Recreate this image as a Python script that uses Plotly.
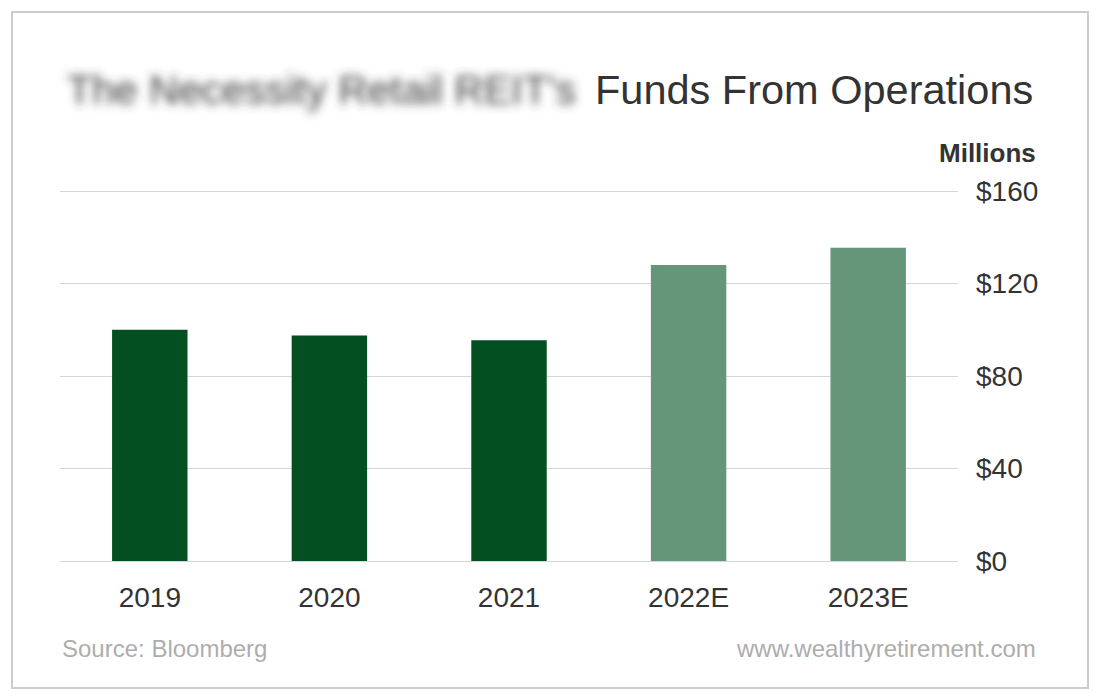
import plotly.graph_objects as go

categories = ["2019", "2020", "2021", "2022E", "2023E"]
ffo_values = [100, 97.5, 95.5, 128, 135.5]
bar_colors = ["#034f22", "#034f22", "#034f22", "#65967a", "#65967a"]
y_ticks = [0, 40, 80, 120, 160]
y_tick_text = ["$0", "$40", "$80", "$120", "$160"]

W, H = 1100, 700
L, R, T, B = 60, 142, 179, 139
PW, PH = W - L - R, H - T - B
PX_PER_UNIT = 370 / 160          # $0 at y=561, $160 at y=191
Y_MAX = PH / PX_PER_UNIT

def px(x):
    return (x - L) / PW

def py(y):
    return (H - B - y) / PH

FONT = "Liberation Sans, Arial, Helvetica, sans-serif"

fig = go.Figure(go.Bar(
    x=categories, y=ffo_values, marker=dict(color=bar_colors, line=dict(width=0)),
    hoverinfo="x+y",
))

fig.update_layout(
    width=W, height=H, margin=dict(l=L, r=R, t=T, b=B),
    paper_bgcolor="white", plot_bgcolor="white",
    bargap=0.58, showlegend=False,
    font=dict(family=FONT, color="#333333"),
    xaxis=dict(showgrid=False, showline=False, zeroline=False, ticks="",
               tickfont=dict(size=28, color="#333333"), ticklabelstandoff=17),
    yaxis=dict(side="right", range=[0, Y_MAX], tickmode="array",
               tickvals=y_ticks, ticktext=y_tick_text,
               showgrid=True, gridcolor="#d6d6d6", gridwidth=1,
               zeroline=True, zerolinecolor="#d6d6d6", zerolinewidth=1,
               showline=False, ticks="", ticklabelstandoff=17,
               tickfont=dict(size=28, color="#333333")),
)

# outer border
fig.add_shape(type="rect", xref="paper", yref="paper",
              x0=px(12), x1=px(1088), y0=py(688), y1=py(12),
              line=dict(color="#cccccc", width=2), fillcolor="rgba(0,0,0,0)", layer="below")

# blurred part of the title (blur applied by an SVG filter after render)
fig.add_annotation(text="The Necessity Retail REIT's", xref="paper", yref="paper",
                   x=px(578), y=py(90), xanchor="right", yanchor="middle",
                   showarrow=False,
                   font=dict(family=FONT, size=41, color="#3a3a3a"))

fig.add_annotation(text="Funds From Operations", xref="paper", yref="paper",
                   x=px(1035), y=py(89), xanchor="right", yanchor="middle", showarrow=False,
                   font=dict(family=FONT, size=41.5, color="#333333"))

fig.add_annotation(text="<b>Millions</b>", xref="paper", yref="paper",
                   x=px(1038), y=py(153), xanchor="right", yanchor="middle", showarrow=False,
                   font=dict(family=FONT, size=26, color="#333333"))

fig.add_annotation(text="Source: Bloomberg", xref="paper", yref="paper",
                   x=px(60), y=py(648), xanchor="left", yanchor="middle", showarrow=False,
                   font=dict(family=FONT, size=24, color="#adadad"))

fig.add_annotation(text="www.wealthyretirement.com", xref="paper", yref="paper",
                   x=px(1038), y=py(648), xanchor="right", yanchor="middle", showarrow=False,
                   font=dict(family=FONT, size=24, color="#adadad"))

post_js = """
document.body.style.margin = '0';
var gd = document.getElementById('{plot_id}');
var svg = gd.querySelector('svg.main-svg');
var ns = 'http://www.w3.org/2000/svg';
var defs = svg.querySelector('defs') || svg.insertBefore(document.createElementNS(ns, 'defs'), svg.firstChild);
var f = document.createElementNS(ns, 'filter');
f.setAttribute('id', 'softblur');
f.setAttribute('x', '-20%'); f.setAttribute('y', '-60%');
f.setAttribute('width', '140%'); f.setAttribute('height', '220%');
var g = document.createElementNS(ns, 'feGaussianBlur');
g.setAttribute('stdDeviation', '5');
f.appendChild(g); defs.appendChild(f);
gd.querySelectorAll('.annotation-text').forEach(function (t) {
  if (t.textContent.indexOf('Necessity') >= 0) { t.setAttribute('filter', 'url(#softblur)'); }
});
"""

fig.write_html("out.html", post_script=post_js, config={"displayModeBar": False})
